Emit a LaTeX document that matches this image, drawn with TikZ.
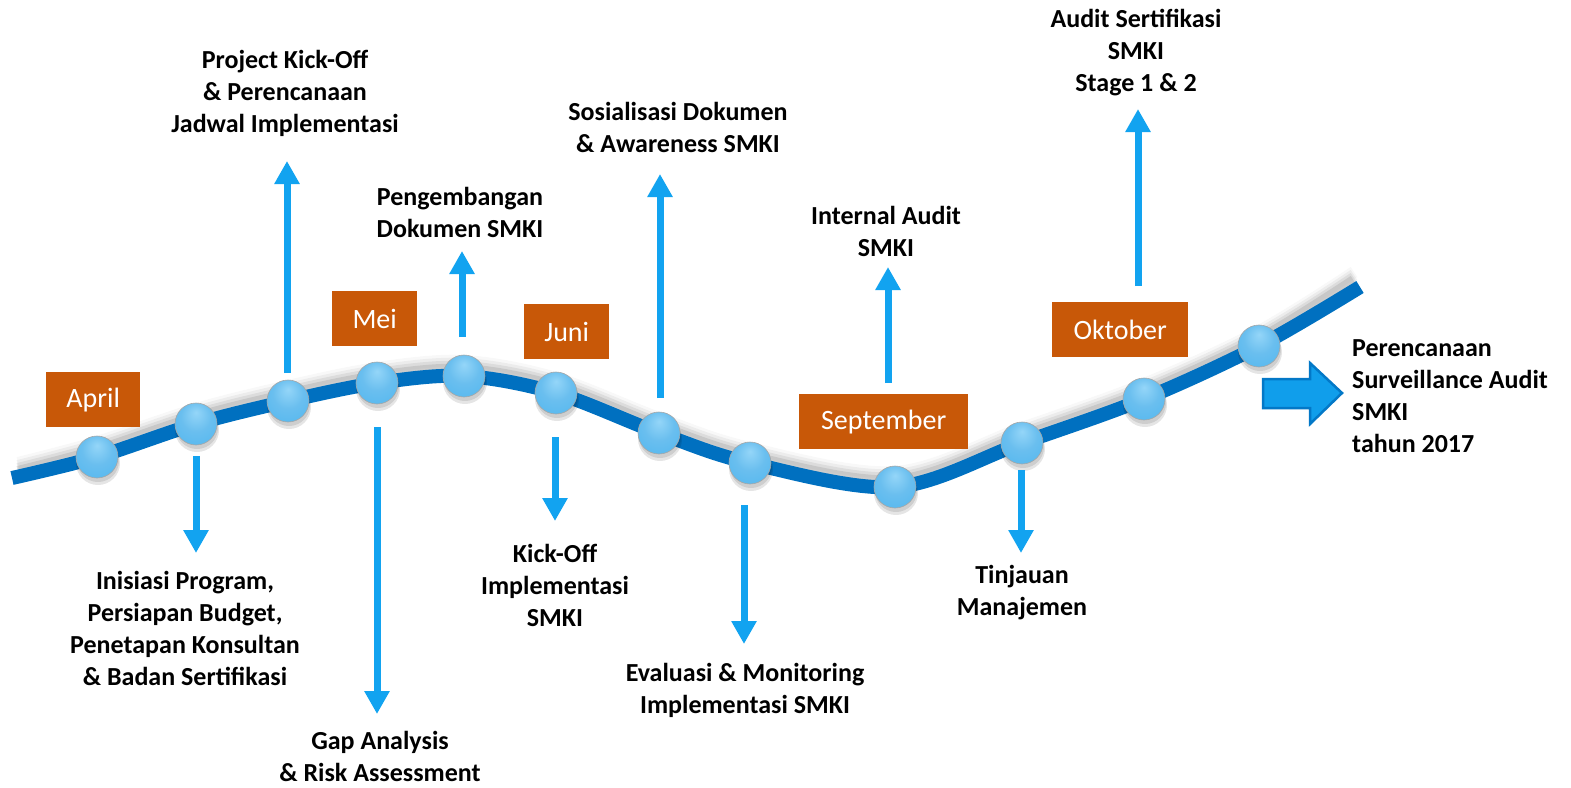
\documentclass[tikz,border=0pt]{standalone}
\usepackage{fontspec}
\setmainfont{Carlito}
\usetikzlibrary{arrows.meta}
\definecolor{linec}{RGB}{0,112,192}
\definecolor{arrc}{RGB}{18,163,240}
\definecolor{monthc}{RGB}{200,88,8}
\pgfdeclareradialshading{sph}{\pgfpoint{0bp}{14bp}}{%
  color(0bp)=(white!55!arrc); color(18bp)=(arrc!55!white!85!linec); color(40bp)=(arrc!70!white!90!linec); color(47bp)=(arrc!60!gray); color(50bp)=(gray!80)}
\tikzset{
  lbl/.style={font=\fontsize{26}{32}\selectfont\bfseries, align=center, inner sep=0pt, text=black},
  month/.style={fill=monthc, text=white, font=\fontsize{28}{32}\selectfont, inner sep=0pt, anchor=north west},
  arr/.style={draw=arrc, line width=7pt, -{Triangle[length=23pt,width=24pt]}},
  dot/.style={circle, minimum size=42pt, inner sep=0pt, shading=sph, draw=gray!70, line width=0.6pt},
  blockarrow/.style={fill=arrc!90!linec, draw=linec!85!arrc, line width=2.5pt, line join=miter},
}
\begin{document}
\begin{tikzpicture}[x=1pt,y=-1pt]
\useasboundingbox (0,0) rectangle (1571,787);
\def\curve{(12,478) (97,457) (196,424) (288,401) (377,383) (464,376) (556,393) (659,433) (750,463) (895,487) (1022,443) (1144,399) (1259,346) (1360,287)}
% shadow
\foreach \o/\op in {15/0.06,12/0.10,9/0.15,6/0.22}{
  \draw[line width=12pt, gray, opacity=\op] plot[smooth, tension=0.55] coordinates {(18,{478-\o}) (97,{457-\o}) (196,{424-\o}) (288,{401-\o}) (377,{383-\o}) (464,{376-\o}) (556,{393-\o}) (659,{433-\o}) (750,{463-\o}) (895,{487-\o}) (1022,{443-\o}) (1144,{399-\o}) (1259,{346-\o}) (1354,{287-\o})};
}
\draw[line width=14pt, linec] plot[smooth, tension=0.55] coordinates \curve;
% month boxes
\node[month, minimum width=94pt, minimum height=55pt] (apr) at (46,372) {April};
\node[month, minimum width=85pt, minimum height=55pt] (mei) at (332,291) {Mei};
\node[month, minimum width=85pt, minimum height=55pt] (jun) at (524,304) {Juni};
\node[month, minimum width=169pt, minimum height=55pt] (sep) at (799,394) {September};
\node[month, minimum width=136pt, minimum height=55pt] (okt) at (1052,302) {Oktober};
% ball shadows
\foreach \x/\y in {97/457,196/424,288/401,377/383,464/376,556/393,659/433,750/463,895/487,1022/443,1144/399,1259/346}{
  \fill[black, opacity=0.10] (\x+1,\y+6) circle (22pt);
  \fill[black, opacity=0.10] (\x+1,\y+4) circle (21pt);
}
% balls
\node[dot] (b1) at (97,457) {};
\node[dot] (b2) at (196,424) {};
\node[dot] (b3) at (288,401) {};
\node[dot] (b4) at (377,383) {};
\node[dot] (b5) at (464,376) {};
\node[dot] (b6) at (556,393) {};
\node[dot] (b7) at (659,433) {};
\node[dot] (b8) at (750,463) {};
\node[dot] (b9) at (895,487) {};
\node[dot] (b10) at (1022,443) {};
\node[dot] (b11) at (1144,399) {};
\node[dot] (b12) at (1259,346) {};
% arrow coordinates
\coordinate (a2s) at (196,456); \coordinate (a2e) at (196,553);
\coordinate (a3s) at (287,373); \coordinate (a3e) at (287,161);
\coordinate (a4s) at (377,427); \coordinate (a4e) at (377,714);
\coordinate (a5s) at (462,337); \coordinate (a5e) at (462,251);
\coordinate (a6s) at (555,437); \coordinate (a6e) at (555,521);
\coordinate (a7s) at (660,398); \coordinate (a7e) at (660,174);
\coordinate (a8s) at (744,505); \coordinate (a8e) at (744,644);
\coordinate (a9s) at (888,383); \coordinate (a9e) at (888,267);
\coordinate (a10s) at (1021,470); \coordinate (a10e) at (1021,553);
\coordinate (a11s) at (1138,286); \coordinate (a11e) at (1138,109);
\draw[arr] (a2s) -- (a2e);
\draw[arr] (a3s) -- (a3e);
\draw[arr] (a4s) -- (a4e);
\draw[arr] (a5s) -- (a5e);
\draw[arr] (a6s) -- (a6e);
\draw[arr] (a7s) -- (a7e);
\draw[arr] (a8s) -- (a8e);
\draw[arr] (a9s) -- (a9e);
\draw[arr] (a10s) -- (a10e);
\draw[arr] (a11s) -- (a11e);
% block arrow
\coordinate (big) at (1263,393);
\draw[blockarrow] (1263,379) -- (1310,379) -- (1310,363) -- (1342,393) -- (1310,424) -- (1310,408) -- (1263,408) -- cycle;
% labels
\node[lbl] (l2) at (185,628) {Inisiasi Program,\\Persiapan Budget,\\Penetapan Konsultan\\\& Badan Sertifikasi};
\node[lbl] (l3) at (285,93) {Project Kick-Off\\\& Perencanaan\\Jadwal Implementasi};
\node[lbl] (l4) at (380,756) {Gap Analysis\\\& Risk Assessment};
\node[lbl] (l5) at (460,212) {Pengembangan\\Dokumen SMKI};
\node[lbl] (l6) at (555,585) {Kick-Off\\Implementasi\\SMKI};
\node[lbl] (l7) at (678,127) {Sosialisasi Dokumen\\\& Awareness SMKI};
\node[lbl] (l8) at (745,690) {Evaluasi \& Monitoring\\Implementasi SMKI};
\node[lbl] (l9) at (886,231) {Internal Audit\\SMKI};
\node[lbl] (l10) at (1022,593) {Tinjauan\\Manajemen};
\node[lbl] (l11) at (1136,53) {Audit Sertifikasi\\SMKI\\Stage 1 \& 2};
\node[lbl, align=left, anchor=west] (l12) at (1352,396) {Perencanaan\\Surveillance Audit\\SMKI\\tahun 2017};
\end{tikzpicture}
\end{document}
